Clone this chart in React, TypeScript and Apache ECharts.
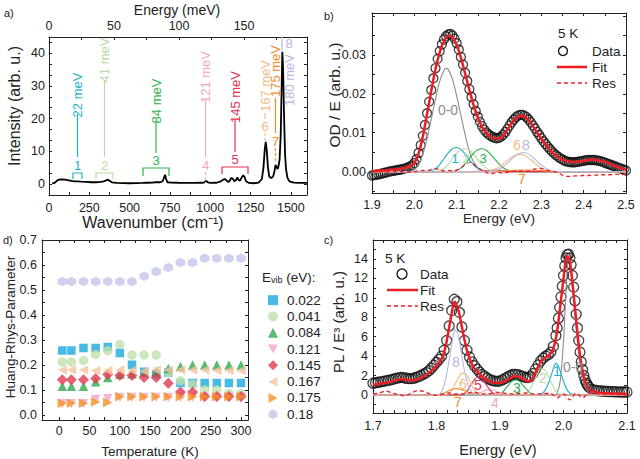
import React, { useEffect, useRef } from "react";
import * as echarts from "echarts";

const FONT = '"Liberation Sans", Arial, sans-serif';
const INK = "#222";

// ---------- panel a: Raman spectrum ----------
const ramanSpectrum: [number, number][] = [
  [20, 0.2], [35, 0.3], [50, 1.0], [60, 1.3], [80, 1.4], [100, 1.3], [120, 1.1], [140, 0.9],
  [160, 0.8], [180, 0.8], [200, 0.7], [230, 0.6], [260, 0.5], [290, 0.5], [320, 0.6], [340, 0.8],
  [355, 1.1], [365, 1.3], [375, 1.0], [390, 0.5], [420, 0.3], [460, 0.25], [500, 0.2], [540, 0.25],
  [580, 0.3], [610, 0.35], [640, 0.4], [660, 0.5], [690, 0.5], [705, 0.8], [715, 2.2], [720, 2.8],
  [726, 1.5], [735, 0.5], [760, 0.4], [800, 0.35], [850, 0.3], [900, 0.3], [950, 0.35], [965, 0.5],
  [975, 0.9], [985, 0.5], [1000, 0.3], [1040, 0.35], [1065, 0.8], [1080, 1.3], [1090, 1.5], [1100, 1.1],
  [1110, 0.6], [1120, 0.9], [1130, 1.8], [1140, 1.6], [1150, 0.8], [1160, 1.2], [1168, 2.0], [1176, 1.2],
  [1185, 1.0], [1195, 2.0], [1205, 2.6], [1212, 2.2], [1222, 0.8], [1240, 0.3], [1270, 0.2], [1300, 0.4],
  [1320, 1.5], [1330, 5.0], [1338, 10.5], [1344, 12.9], [1350, 10.5], [1358, 5.0], [1366, 2.2], [1378, 1.8],
  [1390, 2.3], [1398, 3.8], [1405, 5.8], [1412, 5.0], [1418, 4.6], [1424, 5.6], [1430, 7.5], [1437, 15],
  [1442, 28], [1447, 40.5], [1452, 35], [1458, 20], [1464, 9], [1470, 4.5], [1478, 2.0], [1488, 1.0],
  [1500, 0.6], [1520, 0.4], [1550, 0.3], [1580, 0.3], [1600, 0.3],
];
const CM_PER_MEV = 8.0655;

// ---------- panel b: absorption ----------
const absData: [number, number][] = [
  [1.900, -0.0010], [1.905, -0.0009], [1.910, -0.0008], [1.915, -0.0007], [1.920, -0.0006], [1.925, -0.0004],
  [1.930, -0.0003], [1.935, -0.0002], [1.940, 0.0000], [1.945, 0.0001], [1.950, 0.0002], [1.955, 0.0003],
  [1.960, 0.0004], [1.965, 0.0005], [1.970, 0.0006], [1.975, 0.0007], [1.980, 0.0009], [1.985, 0.0011],
  [1.990, 0.0013], [1.995, 0.0016], [2.000, 0.0022], [2.005, 0.0032], [2.010, 0.0048], [2.015, 0.0068],
  [2.020, 0.0092], [2.025, 0.0120], [2.030, 0.0150], [2.035, 0.0180], [2.040, 0.0210], [2.045, 0.0240],
  [2.050, 0.0266], [2.055, 0.0290], [2.060, 0.0310], [2.065, 0.0327], [2.070, 0.0340], [2.075, 0.0348],
  [2.080, 0.0353], [2.085, 0.0354], [2.090, 0.0350], [2.095, 0.0342], [2.100, 0.0330], [2.105, 0.0314],
  [2.110, 0.0295], [2.115, 0.0275], [2.120, 0.0254], [2.125, 0.0233], [2.130, 0.0212], [2.135, 0.0192],
  [2.140, 0.0173], [2.145, 0.0156], [2.150, 0.0141], [2.155, 0.0128], [2.160, 0.0117], [2.165, 0.0108],
  [2.170, 0.0101], [2.175, 0.0096], [2.180, 0.0092], [2.185, 0.0089], [2.190, 0.0087], [2.195, 0.0086],
  [2.200, 0.0087], [2.205, 0.0090], [2.210, 0.0095], [2.215, 0.0102], [2.220, 0.0110], [2.225, 0.0119],
  [2.230, 0.0127], [2.235, 0.0134], [2.240, 0.0140], [2.245, 0.0144], [2.250, 0.0146], [2.255, 0.0146],
  [2.260, 0.0144], [2.265, 0.0140], [2.270, 0.0134], [2.275, 0.0127], [2.280, 0.0119], [2.285, 0.0111],
  [2.290, 0.0102], [2.295, 0.0094], [2.300, 0.0086], [2.305, 0.0078], [2.310, 0.0071], [2.315, 0.0064],
  [2.320, 0.0058], [2.325, 0.0052], [2.330, 0.0047], [2.335, 0.0042], [2.340, 0.0038], [2.345, 0.0034],
  [2.350, 0.0031], [2.355, 0.0028], [2.360, 0.0026], [2.365, 0.0025], [2.370, 0.0024], [2.375, 0.0024],
  [2.380, 0.0024], [2.385, 0.0025], [2.390, 0.0026], [2.395, 0.0027], [2.400, 0.0028], [2.405, 0.0029],
  [2.410, 0.0030], [2.415, 0.0030], [2.420, 0.0030], [2.425, 0.0030], [2.430, 0.0029], [2.435, 0.0028],
  [2.440, 0.0027], [2.445, 0.0025], [2.450, 0.0023], [2.455, 0.0021], [2.460, 0.0019], [2.465, 0.0017],
  [2.470, 0.0015], [2.475, 0.0013], [2.480, 0.0011], [2.485, 0.0009], [2.490, 0.0007], [2.495, 0.0005],
  [2.500, 0.0003],
];
const absFit: [number, number][] = [
  [1.90, 0.0001], [1.91, 0.0002], [1.92, 0.0003], [1.93, 0.0003], [1.94, 0.0004], [1.95, 0.0005], [1.96, 0.0006],
  [1.97, 0.0008], [1.98, 0.0010], [1.99, 0.0014], [2.00, 0.0022], [2.01, 0.0046], [2.02, 0.0090], [2.03, 0.0148],
  [2.04, 0.0208], [2.05, 0.0264], [2.06, 0.0307], [2.07, 0.0336], [2.08, 0.0349], [2.09, 0.0345], [2.10, 0.0326],
  [2.11, 0.0293], [2.12, 0.0252], [2.13, 0.0210], [2.14, 0.0171], [2.15, 0.0139], [2.16, 0.0115], [2.17, 0.0099],
  [2.18, 0.0090], [2.19, 0.0085], [2.20, 0.0085], [2.21, 0.0093], [2.22, 0.0108], [2.23, 0.0125], [2.24, 0.0138],
  [2.25, 0.0144], [2.26, 0.0142], [2.27, 0.0132], [2.28, 0.0117], [2.29, 0.0100], [2.30, 0.0084], [2.31, 0.0069],
  [2.32, 0.0056], [2.33, 0.0046], [2.34, 0.0037], [2.35, 0.0031], [2.36, 0.0027], [2.37, 0.0025], [2.38, 0.0025],
  [2.39, 0.0026], [2.40, 0.0028], [2.41, 0.0030], [2.42, 0.0031], [2.43, 0.0030], [2.44, 0.0028], [2.45, 0.0025],
  [2.46, 0.0021], [2.47, 0.0016], [2.48, 0.0012], [2.49, 0.0008], [2.50, 0.0005],
];
const absRes: [number, number][] = [
  [1.90, 0.0000], [1.91, 0.0001], [1.92, 0.0000], [1.93, -0.0001], [1.94, 0.0000], [1.95, 0.0000], [1.96, 0.0000],
  [1.97, 0.0000], [1.98, -0.0001], [1.99, -0.0001], [2.00, 0.0000], [2.01, 0.0002], [2.02, 0.0003], [2.03, 0.0002],
  [2.04, 0.0006], [2.05, 0.0008], [2.06, 0.0004], [2.07, 0.0002], [2.08, 0.0003], [2.09, 0.0002], [2.10, 0.0004],
  [2.11, 0.0010], [2.12, 0.0018], [2.13, 0.0024], [2.14, 0.0020], [2.15, 0.0010], [2.16, 0.0003], [2.17, -0.0002],
  [2.18, -0.0006], [2.19, -0.0004], [2.20, -0.0002], [2.21, -0.0004], [2.22, -0.0002], [2.23, 0.0000], [2.24, 0.0002],
  [2.25, 0.0002], [2.26, 0.0001], [2.27, 0.0002], [2.28, 0.0005], [2.29, 0.0008], [2.30, 0.0008], [2.31, 0.0005],
  [2.32, 0.0002], [2.33, 0.0000], [2.34, -0.0003], [2.35, -0.0009], [2.36, -0.0012], [2.37, -0.0012], [2.38, -0.0011],
  [2.39, -0.0011], [2.40, -0.0010], [2.41, -0.0010], [2.42, -0.0009], [2.43, -0.0009], [2.44, -0.0008], [2.45, -0.0008],
  [2.46, -0.0008], [2.47, -0.0007], [2.48, -0.0007], [2.49, -0.0007], [2.50, -0.0007],
];
const absComp00: [number, number][] = [
  [1.90, 0], [1.98, 0], [1.99, 0.0001], [2.00, 0.0006], [2.01, 0.0018], [2.02, 0.0045], [2.03, 0.0085], [2.04, 0.0135],
  [2.05, 0.0187], [2.06, 0.0232], [2.07, 0.0260], [2.075, 0.0266], [2.08, 0.0263], [2.09, 0.0238], [2.10, 0.0195],
  [2.11, 0.0145], [2.12, 0.0095], [2.13, 0.0052], [2.14, 0.0024], [2.15, 0.0010], [2.16, 0.0004], [2.17, 0.0001],
  [2.18, 0], [2.50, 0],
];
const absComp1: [number, number][] = [
  [1.90, 0], [2.03, 0], [2.04, 0.0002], [2.05, 0.0007], [2.06, 0.0018], [2.07, 0.0033], [2.08, 0.0048], [2.09, 0.0059],
  [2.10, 0.0062], [2.11, 0.0057], [2.12, 0.0045], [2.13, 0.0030], [2.14, 0.0017], [2.15, 0.0008], [2.16, 0.0003],
  [2.17, 0], [2.50, 0],
];
const absComp2: [number, number][] = [
  [1.90, 0], [2.05, 0], [2.06, 0.0002], [2.07, 0.0008], [2.08, 0.0018], [2.09, 0.0033], [2.10, 0.0047], [2.11, 0.0056],
  [2.12, 0.0059], [2.13, 0.0055], [2.14, 0.0045], [2.15, 0.0031], [2.16, 0.0018], [2.17, 0.0009], [2.18, 0.0003],
  [2.19, 0], [2.50, 0],
];
const absComp3: [number, number][] = [
  [1.90, 0], [2.09, 0], [2.10, 0.0003], [2.11, 0.0009], [2.12, 0.0020], [2.13, 0.0034], [2.14, 0.0047], [2.15, 0.0056],
  [2.16, 0.0059], [2.17, 0.0055], [2.18, 0.0045], [2.19, 0.0032], [2.20, 0.0020], [2.21, 0.0010], [2.22, 0.0004],
  [2.23, 0.0001], [2.24, 0], [2.50, 0],
];
const absComp4: [number, number][] = [[1.90, 0], [2.12, 0], [2.16, 0.0002], [2.20, 0], [2.50, 0]];
const absComp5: [number, number][] = [[1.90, 0], [2.15, 0], [2.19, 0.0004], [2.23, 0], [2.50, 0]];
const absComp6: [number, number][] = [
  [1.90, 0], [2.17, 0], [2.18, 0.0002], [2.19, 0.0006], [2.20, 0.0012], [2.21, 0.0020], [2.22, 0.0029], [2.23, 0.0037],
  [2.24, 0.0043], [2.25, 0.0045], [2.26, 0.0042], [2.27, 0.0035], [2.28, 0.0026], [2.29, 0.0017], [2.30, 0.0009],
  [2.31, 0.0004], [2.32, 0.0001], [2.33, 0], [2.50, 0],
];
const absComp7: [number, number][] = [[1.90, 0], [2.18, 0], [2.22, 0.0003], [2.26, 0.0004], [2.30, 0.0003], [2.34, 0], [2.50, 0]];
const absComp8: [number, number][] = [
  [1.90, 0], [2.18, 0], [2.19, 0.0002], [2.20, 0.0006], [2.21, 0.0013], [2.22, 0.0022], [2.23, 0.0032], [2.24, 0.0041],
  [2.25, 0.0048], [2.26, 0.0049], [2.27, 0.0045], [2.28, 0.0037], [2.29, 0.0027], [2.30, 0.0017], [2.31, 0.0009],
  [2.32, 0.0004], [2.33, 0.0001], [2.34, 0], [2.50, 0],
];

// ---------- panel c: photoluminescence ----------
const plData: [number, number][] = [
  [1.700, 1.20], [1.704, 1.25], [1.708, 1.30], [1.712, 1.35], [1.716, 1.40], [1.720, 1.45], [1.724, 1.50], [1.728, 1.55],
  [1.732, 1.62], [1.736, 1.70], [1.740, 1.76], [1.744, 1.80], [1.748, 1.78], [1.752, 1.72], [1.756, 1.68], [1.760, 1.68],
  [1.764, 1.72], [1.768, 1.80], [1.772, 1.90], [1.776, 2.02], [1.780, 2.15], [1.784, 2.30], [1.788, 2.50], [1.792, 2.75],
  [1.796, 3.05], [1.800, 3.35], [1.804, 3.65], [1.808, 4.00], [1.812, 4.60], [1.816, 5.60], [1.820, 7.10], [1.824, 8.70],
  [1.828, 9.85], [1.832, 9.60], [1.836, 8.50], [1.840, 7.00], [1.844, 5.60], [1.848, 4.60], [1.852, 3.90], [1.856, 3.40],
  [1.860, 3.00], [1.864, 2.65], [1.868, 2.35], [1.872, 2.10], [1.876, 1.90], [1.880, 1.72], [1.884, 1.58], [1.888, 1.48],
  [1.892, 1.42], [1.896, 1.40], [1.900, 1.45], [1.904, 1.55], [1.908, 1.70], [1.912, 1.85], [1.916, 2.00], [1.920, 2.10],
  [1.924, 2.12], [1.928, 2.08], [1.932, 2.00], [1.936, 1.90], [1.940, 1.80], [1.944, 1.78], [1.948, 1.90], [1.952, 2.20],
  [1.956, 2.65], [1.960, 3.10], [1.964, 3.50], [1.968, 3.80], [1.972, 4.00], [1.976, 4.15], [1.980, 4.40], [1.984, 5.00],
  [1.988, 6.10], [1.990, 6.90], [1.992, 7.90], [1.994, 9.00], [1.996, 10.10], [1.998, 11.20], [2.000, 12.30], [2.002, 13.30],
  [2.004, 14.10], [2.006, 14.45], [2.008, 14.50], [2.010, 14.10], [2.012, 13.40], [2.014, 12.30], [2.016, 11.10],
  [2.018, 9.70], [2.020, 8.30], [2.022, 6.90], [2.024, 5.60], [2.026, 4.40], [2.028, 3.40], [2.030, 2.60], [2.032, 2.00],
  [2.034, 1.55], [2.036, 1.20], [2.038, 1.00], [2.040, 0.80], [2.044, 0.60], [2.048, 0.50], [2.052, 0.45], [2.056, 0.42],
  [2.060, 0.40], [2.064, 0.38], [2.068, 0.36], [2.072, 0.35], [2.076, 0.34], [2.080, 0.33], [2.084, 0.32], [2.088, 0.31],
  [2.092, 0.30], [2.096, 0.30], [2.100, 0.29],
];
const plFit: [number, number][] = [
  [1.70, 1.05], [1.71, 1.15], [1.72, 1.25], [1.73, 1.4], [1.74, 1.6], [1.745, 1.65], [1.75, 1.6], [1.76, 1.5],
  [1.77, 1.6], [1.78, 1.9], [1.79, 2.35], [1.80, 3.0], [1.805, 3.4], [1.81, 4.0], [1.815, 5.2], [1.82, 7.0],
  [1.825, 8.8], [1.828, 9.6], [1.83, 9.5], [1.835, 8.6], [1.84, 7.0], [1.845, 5.4], [1.85, 4.1], [1.855, 3.3],
  [1.86, 2.7], [1.87, 2.0], [1.88, 1.55], [1.89, 1.25], [1.90, 1.25], [1.91, 1.5], [1.92, 1.85], [1.925, 1.95],
  [1.93, 1.85], [1.94, 1.5], [1.945, 1.4], [1.95, 1.6], [1.955, 2.2], [1.96, 2.9], [1.965, 3.5], [1.97, 3.8],
  [1.975, 4.0], [1.98, 4.3], [1.985, 5.0], [1.99, 6.6], [1.995, 9.2], [2.0, 12.0], [2.003, 13.6], [2.006, 14.3],
  [2.009, 14.1], [2.012, 12.8], [2.015, 11.0], [2.02, 7.7], [2.025, 4.6], [2.03, 2.5], [2.035, 1.2], [2.04, 0.6],
  [2.05, 0.3], [2.06, 0.2], [2.08, 0.15], [2.10, 0.1],
];
const plRes: [number, number][] = [
  [1.70, 0.1], [1.71, 0.2], [1.72, 0.4], [1.73, 0.2], [1.74, 0.05], [1.75, -0.1], [1.76, 0.2], [1.77, 0.45],
  [1.78, 0.35], [1.79, 0.1], [1.80, -0.05], [1.81, 0.1], [1.82, 0.2], [1.83, 0.1], [1.84, 0.1], [1.85, 0.2],
  [1.86, 0.25], [1.87, 0.15], [1.88, 0.1], [1.89, 0.2], [1.90, 0.25], [1.91, 0.15], [1.92, 0.1], [1.93, 0.15],
  [1.94, 0.2], [1.95, 0.1], [1.96, 0.1], [1.97, 0.15], [1.98, 0.15], [1.99, -0.3], [2.00, 0.1], [2.01, -0.5],
  [2.02, 0.2], [2.03, -0.3], [2.04, 0.2], [2.05, 0.15], [2.06, 0.1], [2.08, 0.05], [2.10, 0.0],
];
const plComp00: [number, number][] = [
  [1.70, 0], [1.985, 0], [1.99, 0.2], [1.995, 1.5], [2.0, 5.5], [2.003, 9.5], [2.006, 13.0], [2.008, 14.0], [2.01, 13.6],
  [2.013, 11.8], [2.016, 9.5], [2.02, 6.7], [2.025, 3.8], [2.03, 1.8], [2.035, 0.7], [2.04, 0.25], [2.045, 0.05],
  [2.05, 0], [2.10, 0],
];
const plComp1: [number, number][] = [
  [1.70, 0], [1.96, 0], [1.965, 0.1], [1.97, 0.4], [1.975, 1.0], [1.98, 1.9], [1.985, 2.9], [1.988, 3.25], [1.991, 3.1],
  [1.995, 2.4], [2.0, 1.4], [2.005, 0.6], [2.01, 0.2], [2.015, 0.05], [2.02, 0], [2.10, 0],
];
const plComp2: [number, number][] = [
  [1.70, 0], [1.935, 0], [1.94, 0.1], [1.945, 0.4], [1.95, 0.9], [1.955, 1.6], [1.96, 2.3], [1.965, 2.7], [1.97, 2.6],
  [1.975, 2.1], [1.98, 1.4], [1.985, 0.7], [1.99, 0.25], [1.995, 0.05], [2.0, 0], [2.10, 0],
];
const plComp3: [number, number][] = [
  [1.70, 0], [1.895, 0], [1.90, 0.1], [1.905, 0.35], [1.91, 0.75], [1.915, 1.15], [1.92, 1.45], [1.925, 1.55],
  [1.93, 1.45], [1.935, 1.1], [1.94, 0.7], [1.945, 0.35], [1.95, 0.12], [1.955, 0], [2.10, 0],
];
const plComp4: [number, number][] = [[1.70, 0], [1.86, 0], [1.87, 0.25], [1.88, 0.55], [1.89, 0.5], [1.90, 0.2], [1.91, 0.05], [1.92, 0], [2.10, 0]];
const plComp5: [number, number][] = [
  [1.70, 0], [1.84, 0], [1.845, 0.2], [1.85, 0.6], [1.855, 1.1], [1.86, 1.6], [1.865, 1.85], [1.87, 1.8], [1.875, 1.4],
  [1.88, 0.9], [1.885, 0.45], [1.89, 0.15], [1.895, 0], [2.10, 0],
];
const plComp6: [number, number][] = [
  [1.70, 0], [1.815, 0], [1.82, 0.2], [1.825, 0.6], [1.83, 1.2], [1.835, 1.8], [1.84, 2.25], [1.845, 2.2], [1.85, 1.8],
  [1.855, 1.1], [1.86, 0.5], [1.865, 0.2], [1.87, 0], [2.10, 0],
];
const plComp7: [number, number][] = [[1.70, 0], [1.80, 0], [1.81, 0.15], [1.82, 0.45], [1.83, 0.65], [1.84, 0.55], [1.85, 0.3], [1.86, 0.1], [1.87, 0], [2.10, 0]];
const plComp8: [number, number][] = [
  [1.70, 0], [1.80, 0], [1.805, 0.1], [1.81, 0.6], [1.815, 1.8], [1.82, 3.6], [1.825, 5.6], [1.829, 6.7], [1.833, 6.4],
  [1.837, 5.2], [1.841, 3.6], [1.845, 2.2], [1.85, 1.0], [1.855, 0.35], [1.86, 0.1], [1.865, 0], [2.10, 0],
];

// ---------- panel d: Huang-Rhys parameters ----------
const temperatures = [5, 20, 40, 60, 80, 100, 120, 140, 160, 180, 200, 220, 240, 260, 280, 300];
const hr022 = [0.258, 0.258, 0.268, 0.268, 0.272, 0.248, 0.201, 0.173, 0.163, 0.17, 0.128, 0.128, 0.128, 0.128, 0.128, 0.128];
const hr041 = [0.212, 0.212, 0.218, 0.242, 0.257, 0.282, 0.24, 0.24, 0.24, 0.17, 0.137, 0.123, 0.1, 0.1, 0.086, 0.086];
const hr084 = [0.115, 0.115, 0.115, 0.133, 0.15, 0.163, 0.165, 0.17, 0.175, 0.186, 0.194, 0.2, 0.2, 0.2, 0.2, 0.2];
const hr121 = [0.045, 0.045, 0.045, 0.062, 0.065, 0.07, 0.07, 0.07, 0.07, 0.07, 0.07, 0.07, 0.07, 0.07, 0.07, 0.07];
const hr145 = [0.141, 0.141, 0.141, 0.146, 0.162, 0.158, 0.158, 0.15, 0.15, 0.127, 0.092, 0.092, 0.074, 0.074, 0.074, 0.074];
const hr167 = [0.18, 0.18, 0.18, 0.178, 0.178, 0.18, 0.178, 0.175, 0.18, 0.18, 0.18, 0.18, 0.18, 0.178, 0.178, 0.178];
const hr175 = [0.047, 0.047, 0.047, 0.052, 0.05, 0.073, 0.073, 0.073, 0.073, 0.073, 0.073, 0.073, 0.073, 0.073, 0.073, 0.073];
const hr180 = [0.534, 0.534, 0.534, 0.534, 0.534, 0.534, 0.534, 0.555, 0.574, 0.59, 0.61, 0.61, 0.627, 0.627, 0.627, 0.627];
const vibLabels = ["0.022", "0.041", "0.084", "0.121", "0.145", "0.167", "0.175", "0.18"];

// ---------- tick labels ----------
const aWaveTicks = [0, 250, 500, 750, 1000, 1250, 1500];
const aMevTicks = [0, 50, 100, 150];
const aIntTicks = [0, 10, 20, 30, 40];
const bEnergyTicks = [1.9, 2.0, 2.1, 2.2, 2.3, 2.4, 2.5];
const bOdTicks = [0, 0.01, 0.02, 0.03];
const cEnergyTicks = [1.7, 1.8, 1.9, 2.0, 2.1];
const cPlTicks = [0, 2, 4, 6, 8, 10, 12, 14];
const dTempTicks = [0, 50, 100, 150, 200, 250, 300];
const dHrTicks = [0, 0.1, 0.2, 0.3, 0.4, 0.5, 0.6, 0.7];

// mode colours
const C1 = "#1fb3c9", C2 = "#b7dba3", C3 = "#2eb04e", C4 = "#f3a8c5", C5 = "#e6314f";
const C6 = "#f5bb87", C7 = "#f18d27", C8 = "#b5b8e4", C00 = "#8c8c8c";
const RED = "#ee1c25";

function steps(min: number, max: number, step: number) {
  const out: number[] = [];
  const k0 = Math.ceil(min / step - 1e-9);
  for (let k = k0; k * step <= max + 1e-9; k++) out.push(+(k * step).toFixed(6));
  return out;
}

function axis(
  kind: "x" | "y", gridIndex: number, position: string, min: number, max: number,
  labels: number[] | null, ticks: number[], fmt?: (v: number) => string, margin = 5, fontSize = 12.5
) {
  return {
    type: "value", gridIndex, position, min, max,
    axisLine: { show: true, onZero: false, lineStyle: { color: INK, width: 1 } },
    axisTick: { show: true, inside: true, length: 3, customValues: ticks, lineStyle: { color: INK, width: 1 } },
    axisLabel: labels
      ? { show: true, customValues: labels, formatter: fmt ? (v: number) => fmt(v) : undefined, margin, fontSize, color: INK, fontFamily: FONT }
      : { show: false },
    splitLine: { show: false },
  } as any;
}

function T(text: string, x: number, y: number, color: string, size = 14, rot = 0, align = "center", extra: any = {}) {
  return { type: "text", x, y, rotation: rot, z: 100, style: { text, fill: color, fontSize: size, fontFamily: FONT, align, verticalAlign: "middle", ...extra } };
}
function L(x1: number, y1: number, x2: number, y2: number, color: string, w = 1, dash?: number[]) {
  return { type: "line", z: 100, shape: { x1, y1, x2, y2 }, style: { stroke: color, lineWidth: w, lineDash: dash } };
}
function PL(points: number[][], color: string) {
  return { type: "polyline", z: 100, shape: { points }, style: { stroke: color, fill: "none", lineWidth: 1.2 } };
}
function CIRC(cx: number, cy: number, r: number) {
  return { type: "circle", z: 100, shape: { cx, cy, r }, style: { stroke: "#111", fill: "none", lineWidth: 1.3 } };
}

const R90 = Math.PI / 2;

function lineSeries(name: string, data: [number, number][], gi: number, color: string, width = 1.1, extra: any = {}) {
  return {
    type: "line", name, data, xAxisIndex: gi, yAxisIndex: gi, showSymbol: false, symbol: "none",
    lineStyle: { color, width }, smooth: 0.3, silent: true, z: 3, ...extra,
  };
}
function dataSeries(name: string, data: [number, number][], gi: number, size: number) {
  return {
    type: "scatter", name, data, xAxisIndex: gi, yAxisIndex: gi, symbol: "circle", symbolSize: size,
    large: false, progressive: 0,
    itemStyle: { color: "rgba(0,0,0,0)", borderColor: "#111", borderWidth: 1.3 }, z: 2, silent: true,
  };
}

export default function App() {
  const ref = useRef<HTMLDivElement>(null);
  useEffect(() => {
    if (!ref.current) return;
    const chart = echarts.init(ref.current, undefined, { renderer: "svg" });

    const aMin = -3.4, aMax = 45;
    const bMin = -0.0055, bMax = 0.0408;
    const cMin = -1.86, cMax = 15.96;
    const dxMin = -28.5, dxMax = 311.5, dyMin = -0.02, dyMax = 0.7;
    const mevMax = 1600 / CM_PER_MEV;

    const dSymbols = [
      { s: "rect", c: "#19a9df", size: 8.5 },
      { s: "circle", c: "#bfe1ab", size: 9.5 },
      { s: "triangle", c: "#2faa4f", size: 9.5 },
      { s: "path://M0,0 L10,0 L5,9 Z", c: "#f5a3c7", size: 9.5 },
      { s: "diamond", c: "#e13a52", size: 11 },
      { s: "path://M9,0 L9,10 L0,5 Z", c: "#f6c39c", size: 9.5 },
      { s: "path://M0,0 L0,10 L9,5 Z", c: "#f49225", size: 9.5 },
      { s: "path://M5,0 L10,2.9 L10,8.7 L5,11.6 L0,8.7 L0,2.9 Z", c: "#c4c5ea", size: 9.5 },
    ];
    const hrSets = [hr022, hr041, hr084, hr121, hr145, hr167, hr175, hr180];

    const series: any[] = [
      // a
      { type: "line", name: "Raman", data: ramanSpectrum, xAxisIndex: 0, yAxisIndex: 0, showSymbol: false, symbol: "none",
        lineStyle: { color: "#000", width: 1.8 }, silent: true },
      // b
      dataSeries("b-Data", absData, 2, 9),
      lineSeries("b-0-0", absComp00, 2, C00),
      lineSeries("b-1", absComp1, 2, C1),
      lineSeries("b-2", absComp2, 2, C2),
      lineSeries("b-3", absComp3, 2, C3),
      lineSeries("b-4", absComp4, 2, C4),
      lineSeries("b-5", absComp5, 2, C5),
      lineSeries("b-6", absComp6, 2, C6),
      lineSeries("b-7", absComp7, 2, C7),
      lineSeries("b-8", absComp8, 2, C8),
      lineSeries("b-Fit", absFit, 2, RED, 2.5, { z: 4 }),
      lineSeries("b-Res", absRes, 2, RED, 1.3, { z: 4, lineStyle: { color: RED, width: 1.3, type: [4, 3] } }),
      // c
      dataSeries("c-Data", plData, 4, 10),
      lineSeries("c-0-0", plComp00, 4, C00),
      lineSeries("c-1", plComp1, 4, C1),
      lineSeries("c-2", plComp2, 4, C2),
      lineSeries("c-3", plComp3, 4, C3),
      lineSeries("c-4", plComp4, 4, C4),
      lineSeries("c-5", plComp5, 4, C5),
      lineSeries("c-6", plComp6, 4, C6),
      lineSeries("c-7", plComp7, 4, C7),
      lineSeries("c-8", plComp8, 4, C8),
      lineSeries("c-Fit", plFit, 4, RED, 2.5, { z: 4 }),
      lineSeries("c-Res", plRes, 4, RED, 1.3, { z: 4, lineStyle: { color: RED, width: 1.3, type: [4, 3] } }),
    ];
    hrSets.forEach((vals, i) => {
      series.push({
        type: "scatter", name: vibLabels[i], xAxisIndex: 6, yAxisIndex: 6,
        data: temperatures.map((t, j) => [t, vals[j]]),
        symbol: dSymbols[i].s, symbolSize: dSymbols[i].size,
        itemStyle: { color: dSymbols[i].c }, silent: true,
      });
    });

    const graphic: any[] = [
      // panel letters
      T("a)", 4, 13, INK, 11, 0, "left"),
      T("b)", 324, 16, INK, 11, 0, "left"),
      T("d)", 3, 240, INK, 11, 0, "left"),
      T("c)", 324, 240, INK, 11, 0, "left"),
      // axis titles
      T("Energy (meV)", 177, 10, INK, 14),
      T("Intensity (arb. u.)", 14, 106, INK, 16, R90),
      T("Wavenumber (cm⁻¹)", 153, 222, INK, 16),
      T("OD / E (arb. u.)", 334, 95, INK, 15.5, R90),
      T("Energy (eV)", 499, 218, INK, 13.5),
      T("PL / E³ (arb. u.)", 338, 322, INK, 15, R90),
      T("Energy (eV)", 498, 450, INK, 14.5),
      T("Huang-Rhys-Parameter", 10, 327, INK, 13.5, R90),
      T("Temperature (K)", 150, 451, INK, 13.5),
      // panel a annotations
      PL([[73, 179], [73, 173], [82, 173], [82, 179]], C1),
      T("1", 77.5, 165, C1, 13), L(77.5, 157, 77.5, 114, C1, 1.2), T("22 meV", 77.5, 95, C1, 13, R90),
      PL([[96, 179], [96, 173], [113, 173], [113, 179]], C2),
      T("2", 104.5, 165, C2, 13), L(104.5, 157, 104.5, 80, C2, 1.2), T("41 meV", 104.5, 60, C2, 13, R90),
      PL([[143, 176], [143, 168], [169, 168], [169, 176]], C3),
      T("3", 156, 160, C3, 13), L(156, 153, 156, 122, C3, 1.2), T("84 meV", 156, 101, C3, 13, R90),
      T("4", 205.5, 165, C4, 13), L(205.5, 172, 205.5, 183, C4, 1.2, [3, 2]), L(205.5, 157, 205.5, 100, C4, 1.2),
      T("121 meV", 205.5, 77, C4, 13, R90),
      PL([[222, 174], [222, 167], [248, 167], [248, 174]], C5),
      T("5", 235, 159, C5, 13), L(235, 152, 235, 120, C5, 1.2), T("145 meV", 235, 97, C5, 13, R90),
      T("6", 265, 126, C6, 13), L(265, 133, 265, 143, C6, 1.2, [3, 2]), L(265, 113, 265, 119, C6, 1.2),
      T("167 meV", 265, 86, C6, 13, R90),
      T("7", 275.5, 141, C7, 13), L(275.5, 148, 275.5, 163, C7, 1.2, [3, 2]), L(275.5, 98, 275.5, 133, C7, 1.2),
      T("175 meV", 275.5, 71, C7, 13, R90),
      L(282, 37, 282, 50, C8, 1.2), T("8", 289, 43, C8, 13), T("180 meV", 289.5, 80, C8, 13, R90),
      // panel b labels & legend
      T("0-0", 448, 110, C00, 14), T("1", 455, 158, C1, 13), T("2", 466, 158, C2, 13), T("3", 483, 158, C3, 13),
      T("6", 517, 145, C6, 14), T("8", 526, 145, C8, 14), T("7", 522, 179, C7, 14),
      T("5 K", 558, 33, INK, 13.5, 0, "left"),
      CIRC(563, 51, 4.5), T("Data", 592, 51, INK, 13.5, 0, "left"),
      L(557, 67, 587, 67, RED, 2.5), T("Fit", 592, 67, INK, 13.5, 0, "left"),
      L(557, 83, 587, 83, RED, 1.3, [4, 3]), T("Res", 592, 83, INK, 13.5, 0, "left"),
      // panel c labels & legend
      T("8", 456, 362, C8, 14), T("6", 463, 384, C6, 14), T("5", 478, 385, C5, 14), T("7", 458, 402, C7, 14),
      T("4", 495, 403, C4, 14), T("3", 517, 388, C3, 14), T("2", 543, 378, C2, 14), T("1", 557, 371, C1, 14),
      T("0-0", 573, 367, C00, 14),
      T("5 K", 385, 258, INK, 13.5, 0, "left"),
      CIRC(402, 274, 5), T("Data", 420, 274, INK, 13.5, 0, "left"),
      L(387, 290, 418, 290, RED, 2.5), T("Fit", 420, 290, INK, 13.5, 0, "left"),
      L(387, 306, 418, 306, RED, 1.3, [4, 3]), T("Res", 420, 306, INK, 13.5, 0, "left"),
      // panel d legend title
      {
        type: "text", x: 262, y: 277, z: 100,
        style: {
          text: "{a|E}{b|vib}{a| (eV):}", fill: INK, fontFamily: FONT, verticalAlign: "middle", align: "left",
          rich: { a: { fontSize: 13.5, fontFamily: FONT, fill: INK }, b: { fontSize: 9, fontFamily: FONT, fill: INK, padding: [6, 0, 0, 0] } },
        },
      },
    ];

    chart.setOption({
      animation: false,
      backgroundColor: "#fff",
      textStyle: { fontFamily: FONT },
      grid: [
        { left: 49, top: 37, width: 258, height: 158 },
        { left: 372, top: 13, width: 254, height: 180 },
        { left: 373, top: 240, width: 254, height: 173 },
        { left: 42, top: 240, width: 206, height: 180 },
      ],
      xAxis: [
        axis("x", 0, "bottom", 0, 1600, aWaveTicks, steps(0, 1600, 125), (v) => String(v), 6),
        axis("x", 0, "top", 0, mevMax, aMevTicks, steps(0, mevMax, 25), (v) => String(v), 5),
        axis("x", 1, "bottom", 1.9, 2.5, bEnergyTicks, steps(1.9, 2.5, 0.05), (v) => v.toFixed(1), 5),
        axis("x", 1, "top", 1.9, 2.5, null, steps(1.9, 2.5, 0.05)),
        axis("x", 2, "bottom", 1.7, 2.1, cEnergyTicks, steps(1.7, 2.1, 0.1 / 6), (v) => v.toFixed(1), 6),
        axis("x", 2, "top", 1.7, 2.1, null, steps(1.7, 2.1, 0.1 / 6)),
        axis("x", 3, "bottom", dxMin, dxMax, dTempTicks, steps(0, 300, 25), (v) => String(v), 4),
        axis("x", 3, "top", dxMin, dxMax, null, steps(0, 300, 25)),
      ],
      yAxis: [
        axis("y", 0, "left", aMin, aMax, aIntTicks, steps(aMin, aMax, 10 / 3), (v) => String(v), 4),
        axis("y", 0, "right", aMin, aMax, null, steps(aMin, aMax, 10 / 3)),
        axis("y", 1, "left", bMin, bMax, bOdTicks, steps(bMin, bMax, 0.005), (v) => v.toFixed(2), 6),
        axis("y", 1, "right", bMin, bMax, null, steps(bMin, bMax, 0.005)),
        axis("y", 2, "left", cMin, cMax, cPlTicks, steps(cMin, cMax, 1), (v) => String(v), 5),
        axis("y", 2, "right", cMin, cMax, null, steps(cMin, cMax, 1)),
        axis("y", 3, "left", dyMin, dyMax, dHrTicks, steps(0, dyMax, 0.05), (v) => v.toFixed(1), 5),
        axis("y", 3, "right", dyMin, dyMax, null, steps(0, dyMax, 0.05)),
      ],
      legend: {
        show: true, orient: "vertical", left: 263, top: 287, itemWidth: 10, itemHeight: 10, itemGap: 0,
        selectedMode: false, data: vibLabels,
        textStyle: { fontSize: 13.5, fontFamily: FONT, color: INK, lineHeight: 16.3, padding: [0, 0, 0, 4] },
      },
      series,
      graphic,
    });
    return () => chart.dispose();
  }, []);
  return <div ref={ref} style={{ position: "fixed", left: 0, top: 0, width: 640, height: 459 }} />;
}
